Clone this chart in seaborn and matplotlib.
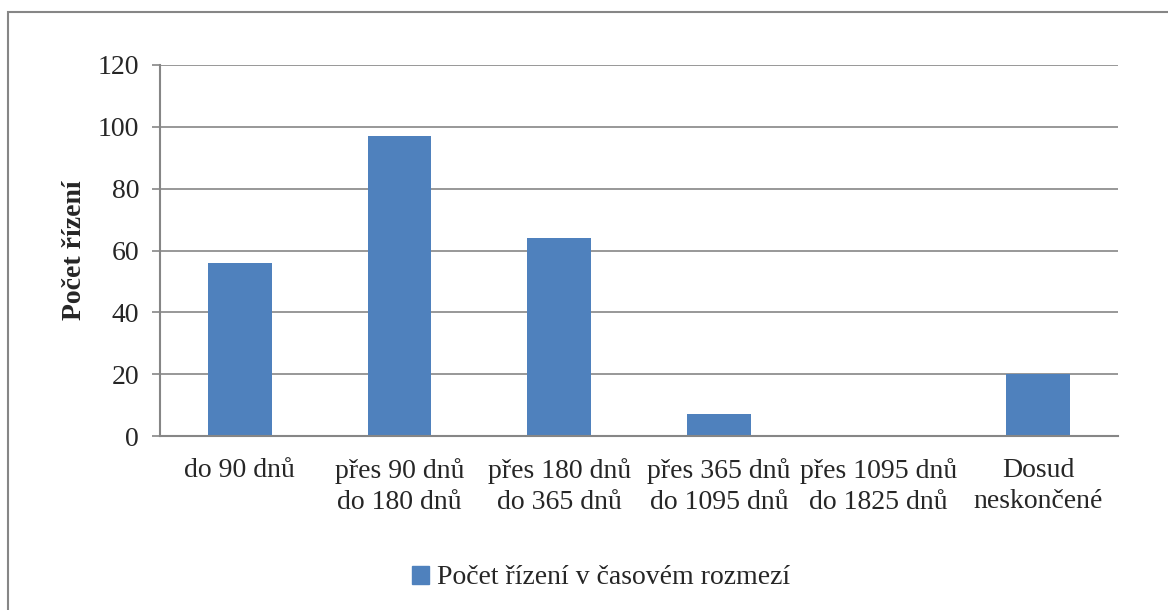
import matplotlib
matplotlib.use("Agg")
import matplotlib.pyplot as plt
import seaborn as sns
import pandas as pd
from matplotlib.patches import Patch, Rectangle

categories = ["do 90 dnů", "přes 90 dnů\ndo 180 dnů", "přes 180 dnů\ndo 365 dnů",
              "přes 365 dnů\ndo 1095 dnů", "přes 1095 dnů\ndo 1825 dnů", "Dosud\nneskončené"]
values = [56, 97, 64, 7, 0, 20]
series_name = "Počet řízení v časovém rozmezí"
y_label = "Počet řízení"
y_ticks = [0, 20, 40, 60, 80, 100, 120]

sns.set_theme(style="white")
plt.rcParams['font.family'] = ['Liberation Serif', 'DejaVu Serif']

BLUE = "#4F81BD"
GRAY = "#868686"
FS = 20

fig = plt.figure(figsize=(11.68, 6.10), dpi=100)
W, H = 1168, 610
ax = fig.add_axes([160 / W, 1 - 436 / H, (1118 - 160) / W, (436 - 65) / H])

df = pd.DataFrame({"cat": categories, "val": values})
sns.barplot(data=df, x="cat", y="val", color=BLUE, width=0.4, saturation=1, ax=ax,
            edgecolor="none", linewidth=0)

ax.set_ylim(0, 120)
ax.set_xlim(-0.5, len(categories) - 0.5)
ax.set_yticks(y_ticks)
ax.set_yticklabels([str(t) for t in y_ticks], fontsize=FS)
ax.yaxis.grid(True, color=GRAY, linewidth=1.2)
ax.set_axisbelow(True)
ax.set_xlabel("")
ax.set_ylabel(y_label, fontsize=FS, fontweight="bold", labelpad=8)

ax.set_xticks(range(len(categories)))
ax.set_xticklabels(categories, fontsize=FS, linespacing=1.3)
ax.tick_params(axis="x", which="major", length=0, pad=16)
ax.set_xticks([i - 0.5 for i in range(len(categories) + 1)], minor=True)
ax.tick_params(axis="x", which="minor", length=7, width=1.2, color=GRAY, direction="out")
ax.tick_params(axis="y", which="major", length=6, width=1.2, color=GRAY, direction="out", left=True, pad=9)
for s in ["top", "right"]:
    ax.spines[s].set_visible(False)
for s in ["left", "bottom"]:
    ax.spines[s].set_color(GRAY)
    ax.spines[s].set_linewidth(1.5)

handles = [Patch(facecolor=BLUE, edgecolor=BLUE, label=series_name)]
fig.legend(handles=handles, loc="center", bbox_to_anchor=(601 / W, 1 - 578 / H),
           frameon=False, fontsize=FS, handlelength=0.6, handleheight=0.6, handletextpad=0.3)

fig.patches.append(Rectangle((8 / W, -0.1), 1.2, 1 - 12 / H + 0.1, transform=fig.transFigure,
                             fill=False, edgecolor=GRAY, linewidth=1.5, figure=fig))

fig.savefig("out.png", dpi=100)
